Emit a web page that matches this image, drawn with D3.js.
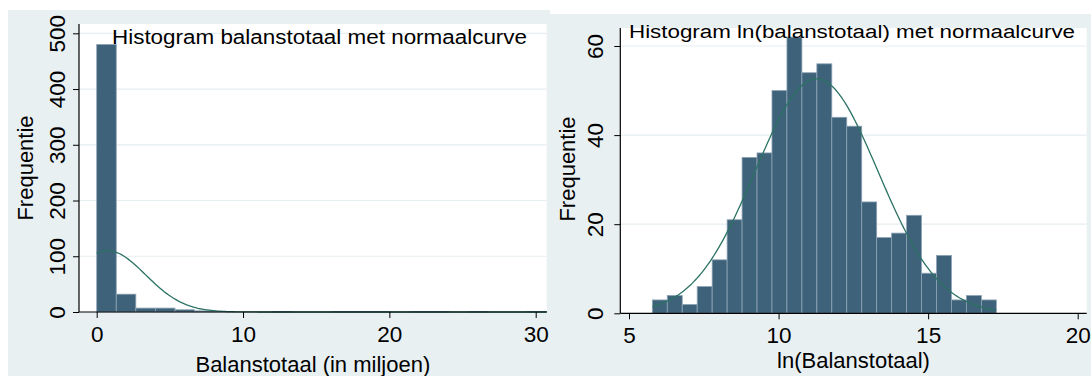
<!DOCTYPE html>
<html>
<head>
<meta charset="utf-8">
<script src="https://cdn.jsdelivr.net/npm/d3@7"></script>
<style>
  body { margin: 0; background: #fff; }
  svg text { font-family: "Liberation Sans", Arial, sans-serif; fill: #000; }
</style>
</head>
<body>
<div id="chart"></div>
<script>
// left histogram: balanstotaal (in miljoen), 23 bins
const leftBinStart = 0;
const leftBinWidth = 1.337;
const leftCounts = [480, 32, 7, 7, 4, 2, 1, 0, 0, 1, 0, 0, 1, 1, 1, 0, 1, 1, 0, 1, 0, 0, 1];
const leftMean = 0.72;
const leftSd = 2.62;
const leftXTicks = [0, 10, 20, 30];
const leftYTicks = [0, 100, 200, 300, 400, 500];

// right histogram: ln(balanstotaal), 23 bins
const rightBinStart = 5.78;
const rightBinWidth = 0.5;
const rightCounts = [3, 4, 2, 6, 12, 21, 35, 36, 50, 62, 54, 56, 44, 42, 25, 17, 18, 22, 9, 13, 3, 4, 3];
const rightMean = 11.27;
const rightSd = 2.05;
const rightXTicks = [5, 10, 15, 20];
const rightYTicks = [0, 20, 40, 60];

const W = 1091, H = 376;
const bg = "#e9f0f2";
const barFill = "#3e6279";
const barStroke = "#8ea4b6";
const curveColor = "#2b7264";
const tickFs = 22.5;
const labelFs = 22;

const svg = d3.select("#chart").append("svg")
  .attr("width", W)
  .attr("height", H);

function panel(opt) {
  const g = svg.append("g");

  // outer grey region
  g.append("rect")
    .attr("x", opt.box[0]).attr("y", opt.box[1])
    .attr("width", opt.box[2]).attr("height", opt.box[3])
    .attr("fill", bg);

  // white plot region
  g.append("rect")
    .attr("x", opt.plot[0]).attr("y", opt.plot[1])
    .attr("width", opt.plot[2] - opt.plot[0]).attr("height", opt.plot[3] - opt.plot[1])
    .attr("fill", "#fff");

  const x = d3.scaleLinear().domain(opt.xDomain).range(opt.xRange);
  const y = d3.scaleLinear().domain(opt.yDomain).range(opt.yRange);
  const x0 = opt.plot[0], x1 = opt.plot[2], yBase = y(0);

  // gridlines
  g.selectAll("line.grid")
    .data(opt.yTicks.filter((d) => d > 0))
    .join("line")
    .attr("x1", x0).attr("x2", x1)
    .attr("y1", (d) => y(d)).attr("y2", (d) => y(d))
    .attr("stroke", "#e6eef1")
    .attr("stroke-width", 1.2);

  // bars
  const bins = opt.counts.map((c, i) => ({
    x0: opt.binStart + i * opt.binWidth,
    x1: opt.binStart + (i + 1) * opt.binWidth,
    n: c
  })).filter((d) => d.n > 0);

  g.selectAll("rect.bar")
    .data(bins)
    .join("rect")
    .attr("class", "bar")
    .attr("x", (d) => x(d.x0))
    .attr("width", (d) => x(d.x1) - x(d.x0))
    .attr("y", (d) => y(d.n))
    .attr("height", (d) => yBase - y(d.n))
    .attr("fill", barFill)
    .attr("stroke", barStroke)
    .attr("stroke-width", 0.8);

  // normal curve
  const N = d3.sum(opt.counts);
  const lo = opt.binStart, hi = opt.binStart + opt.counts.length * opt.binWidth;
  const pts = d3.range(0, 201).map((i) => lo + (hi - lo) * i / 200);
  const dens = (v) => N * opt.binWidth / (opt.sd * Math.sqrt(2 * Math.PI)) *
    Math.exp(-((v - opt.mean) ** 2) / (2 * opt.sd * opt.sd));
  g.append("path")
    .datum(pts)
    .attr("d", d3.line().x((d) => x(d)).y((d) => y(dens(d))))
    .attr("fill", "none")
    .attr("stroke", curveColor)
    .attr("stroke-width", 1.3);

  // x axis
  const xa = g.append("g")
    .attr("transform", `translate(0, ${yBase})`)
    .call(d3.axisBottom(x).tickValues(opt.xTicks).tickSize(6).tickFormat(d3.format("d")));
  xa.select(".domain").remove();
  xa.selectAll("line").attr("stroke", "#000");
  xa.selectAll("text")
    .attr("y", opt.xLabelOff).attr("dy", 0)
    .attr("font-size", tickFs).attr("font-family", null);
  g.append("line")
    .attr("x1", x0).attr("x2", x1)
    .attr("y1", yBase).attr("y2", yBase)
    .attr("stroke", "#000").attr("stroke-width", 1.2);

  // y axis
  const ya = g.append("g")
    .attr("transform", `translate(${x0}, 0)`)
    .call(d3.axisLeft(y).tickValues(opt.yTicks).tickSize(6).tickFormat(d3.format("d")));
  ya.select(".domain").remove();
  ya.selectAll("line").attr("stroke", "#000");
  ya.selectAll("text")
    .attr("transform", "rotate(-90)")
    .attr("x", 0).attr("y", -opt.yLabelOff).attr("dy", 0)
    .attr("text-anchor", "middle")
    .attr("font-size", tickFs).attr("font-family", null);
  g.append("line")
    .attr("x1", x0).attr("x2", x0)
    .attr("y1", opt.plot[1]).attr("y2", yBase)
    .attr("stroke", "#000").attr("stroke-width", 1.2);

  // axis titles
  g.append("text")
    .attr("transform", `translate(${opt.yTitle[0]}, ${opt.yTitle[1]}) rotate(-90)`)
    .attr("text-anchor", "middle")
    .attr("font-size", labelFs)
    .text("Frequentie");
  g.append("text")
    .attr("x", (x0 + x1) / 2).attr("y", opt.xTitleY)
    .attr("text-anchor", "middle")
    .attr("font-size", labelFs)
    .text(opt.xTitle);

  // title
  g.append("text")
    .attr("x", opt.titlePos[0]).attr("y", opt.titlePos[1])
    .attr("font-size", opt.titleSize)
    .attr("textLength", opt.titleLen)
    .attr("lengthAdjust", "spacingAndGlyphs")
    .text(opt.title);
}

panel({
  box: [8, 10, 542, 366],
  plot: [79, 24, 546.7, 312],
  xDomain: [0, 30], xRange: [96.7, 535.7],
  yDomain: [0, 500], yRange: [312, 33.3],
  counts: leftCounts, binStart: leftBinStart, binWidth: leftBinWidth,
  mean: leftMean, sd: leftSd,
  xTicks: leftXTicks, yTicks: leftYTicks,
  xLabelOff: 29.7, yLabelOff: 14,
  yTitle: [33, 168], xTitleY: 372, xTitle: "Balanstotaal (in miljoen)",
  title: "Histogram balanstotaal met normaalcurve",
  titlePos: [112, 44], titleSize: 20, titleLen: 415
});

panel({
  box: [550, 14, 541, 362],
  plot: [620.3, 28, 1086.7, 313.3],
  xDomain: [5, 20], xRange: [629, 1077.7],
  yDomain: [0, 60], yRange: [313.3, 46],
  counts: rightCounts, binStart: rightBinStart, binWidth: rightBinWidth,
  mean: rightMean, sd: rightSd,
  xTicks: rightXTicks, yTicks: rightYTicks,
  xLabelOff: 30, yLabelOff: 17,
  yTitle: [575, 169], xTitleY: 368, xTitle: "ln(Balanstotaal)",
  title: "Histogram ln(balanstotaal) met normaalcurve",
  titlePos: [629, 37.5], titleSize: 18, titleLen: 446
});
</script>
</body>
</html>
